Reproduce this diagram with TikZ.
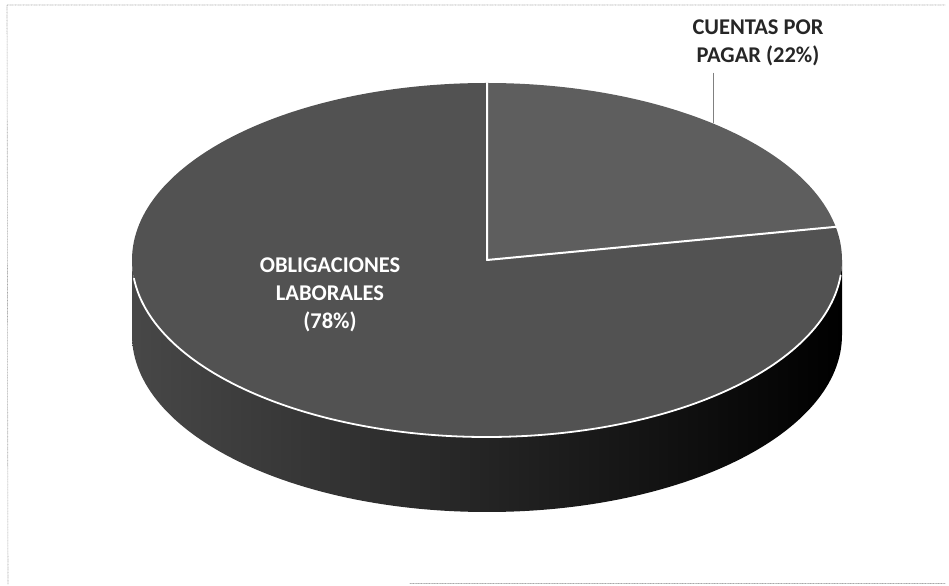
\documentclass[tikz,border=0pt]{standalone}
\usepackage{fontspec}
\setmainfont{Carlito}
\usetikzlibrary{calc}
\tikzset{
  piefrm/.style={gray!70, line width=0.6pt, densely dotted},
  rimline/.style={white, line width=2pt},
  pielbl/.style={font=\bfseries\fontsize{22.5}{28}\selectfont, align=center, inner sep=0pt}
}
\begin{document}
\begin{tikzpicture}[x=100pt, y=100pt, line join=round, line cap=round]
            \useasboundingbox (0,0) rectangle (9.49,5.86);
            % frame
            \draw[piefrm] (0.08,0.02)--(0.07,5.81)--(9.45,5.81);
            \draw[piefrm] (4.10,0.03)--(9.45,0.03);
            % side of the pie
            \shade[left color=black!72, right color=black]
                (1.32,3.26) arc[start angle=180, end angle=360, x radius=3.55, y radius=1.77]
                -- ++(0,-0.75) arc[start angle=360, end angle=180, x radius=3.55, y radius=1.77] -- cycle;
            % top of the pie
            \coordinate (ctr) at (4.87,3.26);
            \fill[black!68] (ctr) -- ++(0,1.77) arc[start angle=90, end angle=370.8, x radius=3.55, y radius=1.77] -- cycle;
            \fill[black!63] (ctr) -- ++({3.55*cos(10.8)},{1.77*sin(10.8)}) arc[start angle=10.8, end angle=90, x radius=3.55, y radius=1.77] -- cycle;
            \coordinate (top) at ($(ctr)+(0,1.77)$);
            \coordinate (cut) at ($(ctr)+({3.55*cos(10.8)},{1.77*sin(10.8)})$);
            \draw[rimline] (top) -- (ctr) -- (cut);
            \draw[rimline, line width=1.8pt] ($(ctr)+({3.55*cos(186)},{1.77*sin(186)})$) arc[start angle=186, end angle=355, x radius=3.55, y radius=1.77];
            % labels
            \node[pielbl, white] (oblig) at (3.30,2.91) {OBLIGACIONES\\LABORALES\\(78\%)};
            \node[pielbl, black!85] (cxp) at (7.58,5.43) {CUENTAS POR\\PAGAR (22\%)};
            \coordinate (cxpend) at (7.13,4.63);
            \draw[gray, line width=0.6pt] ([yshift=-7pt]cxp.south -| cxpend) -- (cxpend);
        \end{tikzpicture}
\end{document}
